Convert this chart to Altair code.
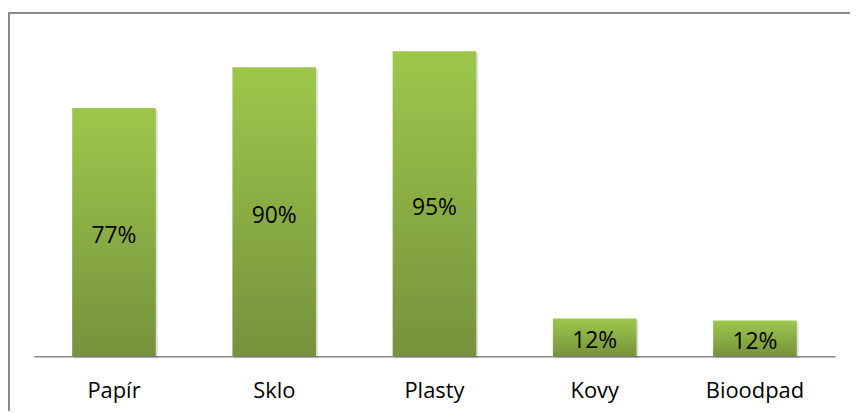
import altair as alt
import pandas as pd

categories = ["Papír", "Sklo", "Plasty", "Kovy", "Bioodpad"]
values = [0.775, 0.902, 0.952, 0.118, 0.112]
labels = ["77%", "90%", "95%", "12%", "12%"]

df = pd.DataFrame({"cat": categories, "value": values, "label": labels})

x = alt.X("cat:N", sort=categories, title=None,
          scale=alt.Scale(paddingInner=0.478, paddingOuter=0.239),
          axis=alt.Axis(labelAngle=0, ticks=False, domainColor="#868686", domainWidth=1.5,
                        labelFont="Open Sans", labelFontSize=22, labelColor="#000000",
                        labelPadding=24))
y = alt.Y("value:Q", scale=alt.Scale(domain=[0, 1], nice=False), axis=None)

base = alt.Chart(df)

border = base.mark_rect(fill=None, stroke="#8c8c8c", strokeWidth=2).encode(
    x=alt.value(-25), x2=alt.value(850), y=alt.value(-23), y2=alt.value(420)
).transform_filter(alt.datum.cat == "Papír")

shadow = base.mark_bar(color="#000000", opacity=0.12, xOffset=2, yOffset=2).encode(x=x, y=y)

bars = base.mark_bar(
    color=alt.Gradient(
        gradient="linear", x1=0, x2=0, y1=0, y2=1,
        stops=[alt.GradientStop(color="#9dc74b", offset=0),
               alt.GradientStop(color="#76923c", offset=1)]
    )
).encode(x=x, y=y)

text = base.transform_calculate(mid="datum.value / 2").mark_text(
    font="Open Sans", fontSize=23, color="#000000", baseline="middle", dy=4
).encode(x=x, y=alt.Y("mid:Q", scale=alt.Scale(domain=[0, 1], nice=False), axis=None),
         text="label:N")

chart = alt.layer(border, shadow, bars, text).properties(
    width=805, height=322,
    autosize=alt.AutoSizeParams(type="none"),
    padding={"left": 26, "top": 27, "right": 15, "bottom": 54},
).configure_view(stroke=None).configure_axis(grid=False)

chart.save("out.html", embed_options={"renderer": "svg", "actions": False})
